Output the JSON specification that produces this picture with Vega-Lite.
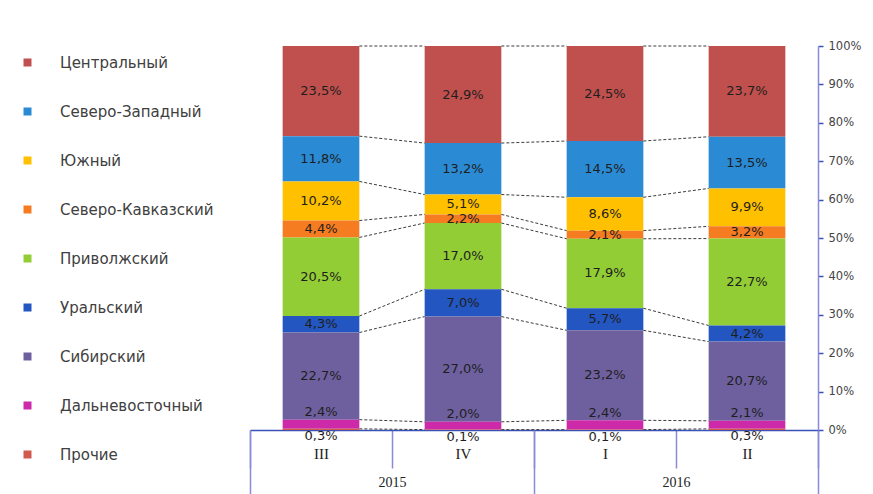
{
  "$schema": "https://vega.github.io/schema/vega-lite/v6.json",
  "width": 568,
  "height": 384,
  "autosize": {"type": "none"},
  "padding": {"left": 250, "top": 46, "right": 55, "bottom": 64},
  "background": "white",
  "config": {
    "view": {"stroke": null},
    "font": "DejaVu Sans",
    "axisY": {
      "orient": "right", "title": null, "grid": false,
      "values": [0, 10, 20, 30, 40, 50, 60, 70, 80, 90, 100],
      "tickCount": 10,
      "labelExpr": "datum.value + '%'", "labelOverlap": false,
      "domainColor": "#8a8ad6", "domainWidth": 1.5,
      "tickColor": "#3a52b8", "tickSize": 5, "tickWidth": 1.5,
      "labelFontSize": 11.5, "labelColor": "#444444", "labelPadding": 5
    }
  },
  "data": {
    "values": [
      {"q": "III", "year": "2015", "region": "Центральный", "v": 23.5},
      {"q": "III", "year": "2015", "region": "Северо-Западный", "v": 11.8},
      {"q": "III", "year": "2015", "region": "Южный", "v": 10.2},
      {"q": "III", "year": "2015", "region": "Северо-Кавказский", "v": 4.4},
      {"q": "III", "year": "2015", "region": "Приволжский", "v": 20.5},
      {"q": "III", "year": "2015", "region": "Уральский", "v": 4.3},
      {"q": "III", "year": "2015", "region": "Сибирский", "v": 22.7},
      {"q": "III", "year": "2015", "region": "Дальневосточный", "v": 2.4},
      {"q": "III", "year": "2015", "region": "Прочие", "v": 0.3},
      {"q": "IV", "year": "2015", "region": "Центральный", "v": 24.9},
      {"q": "IV", "year": "2015", "region": "Северо-Западный", "v": 13.2},
      {"q": "IV", "year": "2015", "region": "Южный", "v": 5.1},
      {"q": "IV", "year": "2015", "region": "Северо-Кавказский", "v": 2.2},
      {"q": "IV", "year": "2015", "region": "Приволжский", "v": 17.0},
      {"q": "IV", "year": "2015", "region": "Уральский", "v": 7.0},
      {"q": "IV", "year": "2015", "region": "Сибирский", "v": 27.0},
      {"q": "IV", "year": "2015", "region": "Дальневосточный", "v": 2.0},
      {"q": "IV", "year": "2015", "region": "Прочие", "v": 0.1},
      {"q": "I", "year": "2016", "region": "Центральный", "v": 24.5},
      {"q": "I", "year": "2016", "region": "Северо-Западный", "v": 14.5},
      {"q": "I", "year": "2016", "region": "Южный", "v": 8.6},
      {"q": "I", "year": "2016", "region": "Северо-Кавказский", "v": 2.1},
      {"q": "I", "year": "2016", "region": "Приволжский", "v": 17.9},
      {"q": "I", "year": "2016", "region": "Уральский", "v": 5.7},
      {"q": "I", "year": "2016", "region": "Сибирский", "v": 23.2},
      {"q": "I", "year": "2016", "region": "Дальневосточный", "v": 2.4},
      {"q": "I", "year": "2016", "region": "Прочие", "v": 0.1},
      {"q": "II", "year": "2016", "region": "Центральный", "v": 23.7},
      {"q": "II", "year": "2016", "region": "Северо-Западный", "v": 13.5},
      {"q": "II", "year": "2016", "region": "Южный", "v": 9.9},
      {"q": "II", "year": "2016", "region": "Северо-Кавказский", "v": 3.2},
      {"q": "II", "year": "2016", "region": "Приволжский", "v": 22.7},
      {"q": "II", "year": "2016", "region": "Уральский", "v": 4.2},
      {"q": "II", "year": "2016", "region": "Сибирский", "v": 20.7},
      {"q": "II", "year": "2016", "region": "Дальневосточный", "v": 2.1},
      {"q": "II", "year": "2016", "region": "Прочие", "v": 0.3}
    ]
  },
  "transform": [
    {"joinaggregate": [{"op": "sum", "field": "v", "as": "total"}], "groupby": ["q"]},
    {"calculate": "datum.v / datum.total * 100", "as": "p"},
    {"calculate": "indexof(['Прочие','Дальневосточный','Сибирский','Уральский','Приволжский','Северо-Кавказский','Южный','Северо-Западный','Центральный'], datum.region)", "as": "rank"},
    {"calculate": "indexof(['III','IV','I','II'], datum.q)", "as": "qi"},
    {"calculate": "replace(format(datum.v, '.1f'), '.', ',') + '%'", "as": "lbl"},
    {"window": [{"op": "sum", "field": "p", "as": "top"}], "groupby": ["q"], "sort": [{"field": "rank", "order": "ascending"}], "frame": [null, 0]},
    {"calculate": "datum.top - datum.p / 2", "as": "mid"}
  ],
  "resolve": {"scale": {"x": "independent"}, "axis": {"x": "independent"}},
  "layer": [
    {
      "layer": [
        {
          "mark": {"type": "bar", "width": {"band": 0.54}},
          "encoding": {
            "x": {
              "field": "q", "type": "nominal", "sort": ["III", "IV", "I", "II"],
              "scale": {"paddingInner": 0, "paddingOuter": 0},
              "axis": {
                "orient": "bottom", "title": null, "labelAngle": 0,
                "tickBand": "extent", "tickSize": 38, "tickColor": "#8a8ad6", "tickWidth": 1.5,
                "domainColor": "#3a52b8", "domainWidth": 1.5,
                "labelFont": "Liberation Serif", "labelFontSize": 15, "labelColor": "#222222",
                "labelPadding": -22
              }
            },
            "y": {
              "field": "p", "type": "quantitative", "stack": "zero", "title": null,
              "scale": {"domain": [0, 100], "nice": false}
            },
            "color": {
              "field": "region", "type": "nominal",
              "scale": {
                "domain": ["Центральный", "Северо-Западный", "Южный", "Северо-Кавказский", "Приволжский", "Уральский", "Сибирский", "Дальневосточный", "Прочие"],
                "range": ["#c0504d", "#2a8ad4", "#ffc000", "#f57c20", "#92cd35", "#2356c0", "#6e609e", "#cc2aa8", "#d2594e"]
              },
              "legend": {
                "orient": "none", "legendX": -230, "legendY": 9, "direction": "vertical",
                "title": null, "symbolType": "square", "symbolSize": 64, "symbolStrokeWidth": 0,
                "labelFont": "DejaVu Sans", "labelFontSize": 15, "labelColor": "#404040",
                "labelOffset": 25, "rowPadding": 33, "padding": 0, "labelLimit": 250
              }
            },
            "order": {"field": "rank", "type": "quantitative", "sort": "ascending"}
          }
        },
        {
          "transform": [
            {"window": [{"op": "lead", "field": "top", "as": "nextTop"}, {"op": "lead", "field": "q", "as": "nextQ"}], "groupby": ["region"], "sort": [{"field": "qi", "order": "ascending"}]},
            {"filter": "datum.nextQ != null"}
          ],
          "mark": {"type": "rule", "color": "#3c3c3c", "strokeWidth": 1, "strokeDash": [3, 2]},
          "encoding": {
            "x": {"field": "q", "type": "nominal", "sort": ["III", "IV", "I", "II"], "bandPosition": 0.77},
            "x2": {"field": "nextQ", "bandPosition": 0.23},
            "y": {"field": "top", "type": "quantitative", "stack": null, "title": null},
            "y2": {"field": "nextTop"}
          }
        },
        {
          "transform": [{"filter": "datum.region != 'Прочие' && datum.region != 'Дальневосточный'"}],
          "mark": {"type": "text", "fontSize": 13, "color": "#1e1e1e", "baseline": "middle"},
          "encoding": {
            "x": {"field": "q", "type": "nominal", "sort": ["III", "IV", "I", "II"]},
            "y": {"field": "mid", "type": "quantitative", "stack": null, "title": null},
            "text": {"field": "lbl", "type": "nominal"}
          }
        },
        {
          "transform": [{"filter": "datum.region == 'Дальневосточный'"}],
          "mark": {"type": "text", "fontSize": 13, "color": "#1e1e1e", "baseline": "middle", "dy": -12},
          "encoding": {
            "x": {"field": "q", "type": "nominal", "sort": ["III", "IV", "I", "II"]},
            "y": {"field": "mid", "type": "quantitative", "stack": null, "title": null},
            "text": {"field": "lbl", "type": "nominal"}
          }
        },
        {
          "transform": [{"filter": "datum.region == 'Прочие'"}],
          "mark": {"type": "text", "fontSize": 13, "color": "#1e1e1e", "baseline": "middle", "dy": 7},
          "encoding": {
            "x": {"field": "q", "type": "nominal", "sort": ["III", "IV", "I", "II"]},
            "y": {"field": "mid", "type": "quantitative", "stack": null, "title": null},
            "text": {"field": "lbl", "type": "nominal"}
          }
        }
      ]
    },
    {
      "mark": {"type": "rule", "opacity": 0},
      "encoding": {
        "x": {
          "field": "year", "type": "nominal",
          "scale": {"paddingInner": 0, "paddingOuter": 0},
          "axis": {
            "orient": "bottom", "title": null, "labelAngle": 0, "domain": false,
            "tickBand": "extent", "tickSize": 64, "tickColor": "#8a8ad6", "tickWidth": 1.5,
            "labelFont": "Liberation Serif", "labelFontSize": 14, "labelColor": "#222222",
            "labelPadding": -19
          }
        }
      }
    }
  ]
}
